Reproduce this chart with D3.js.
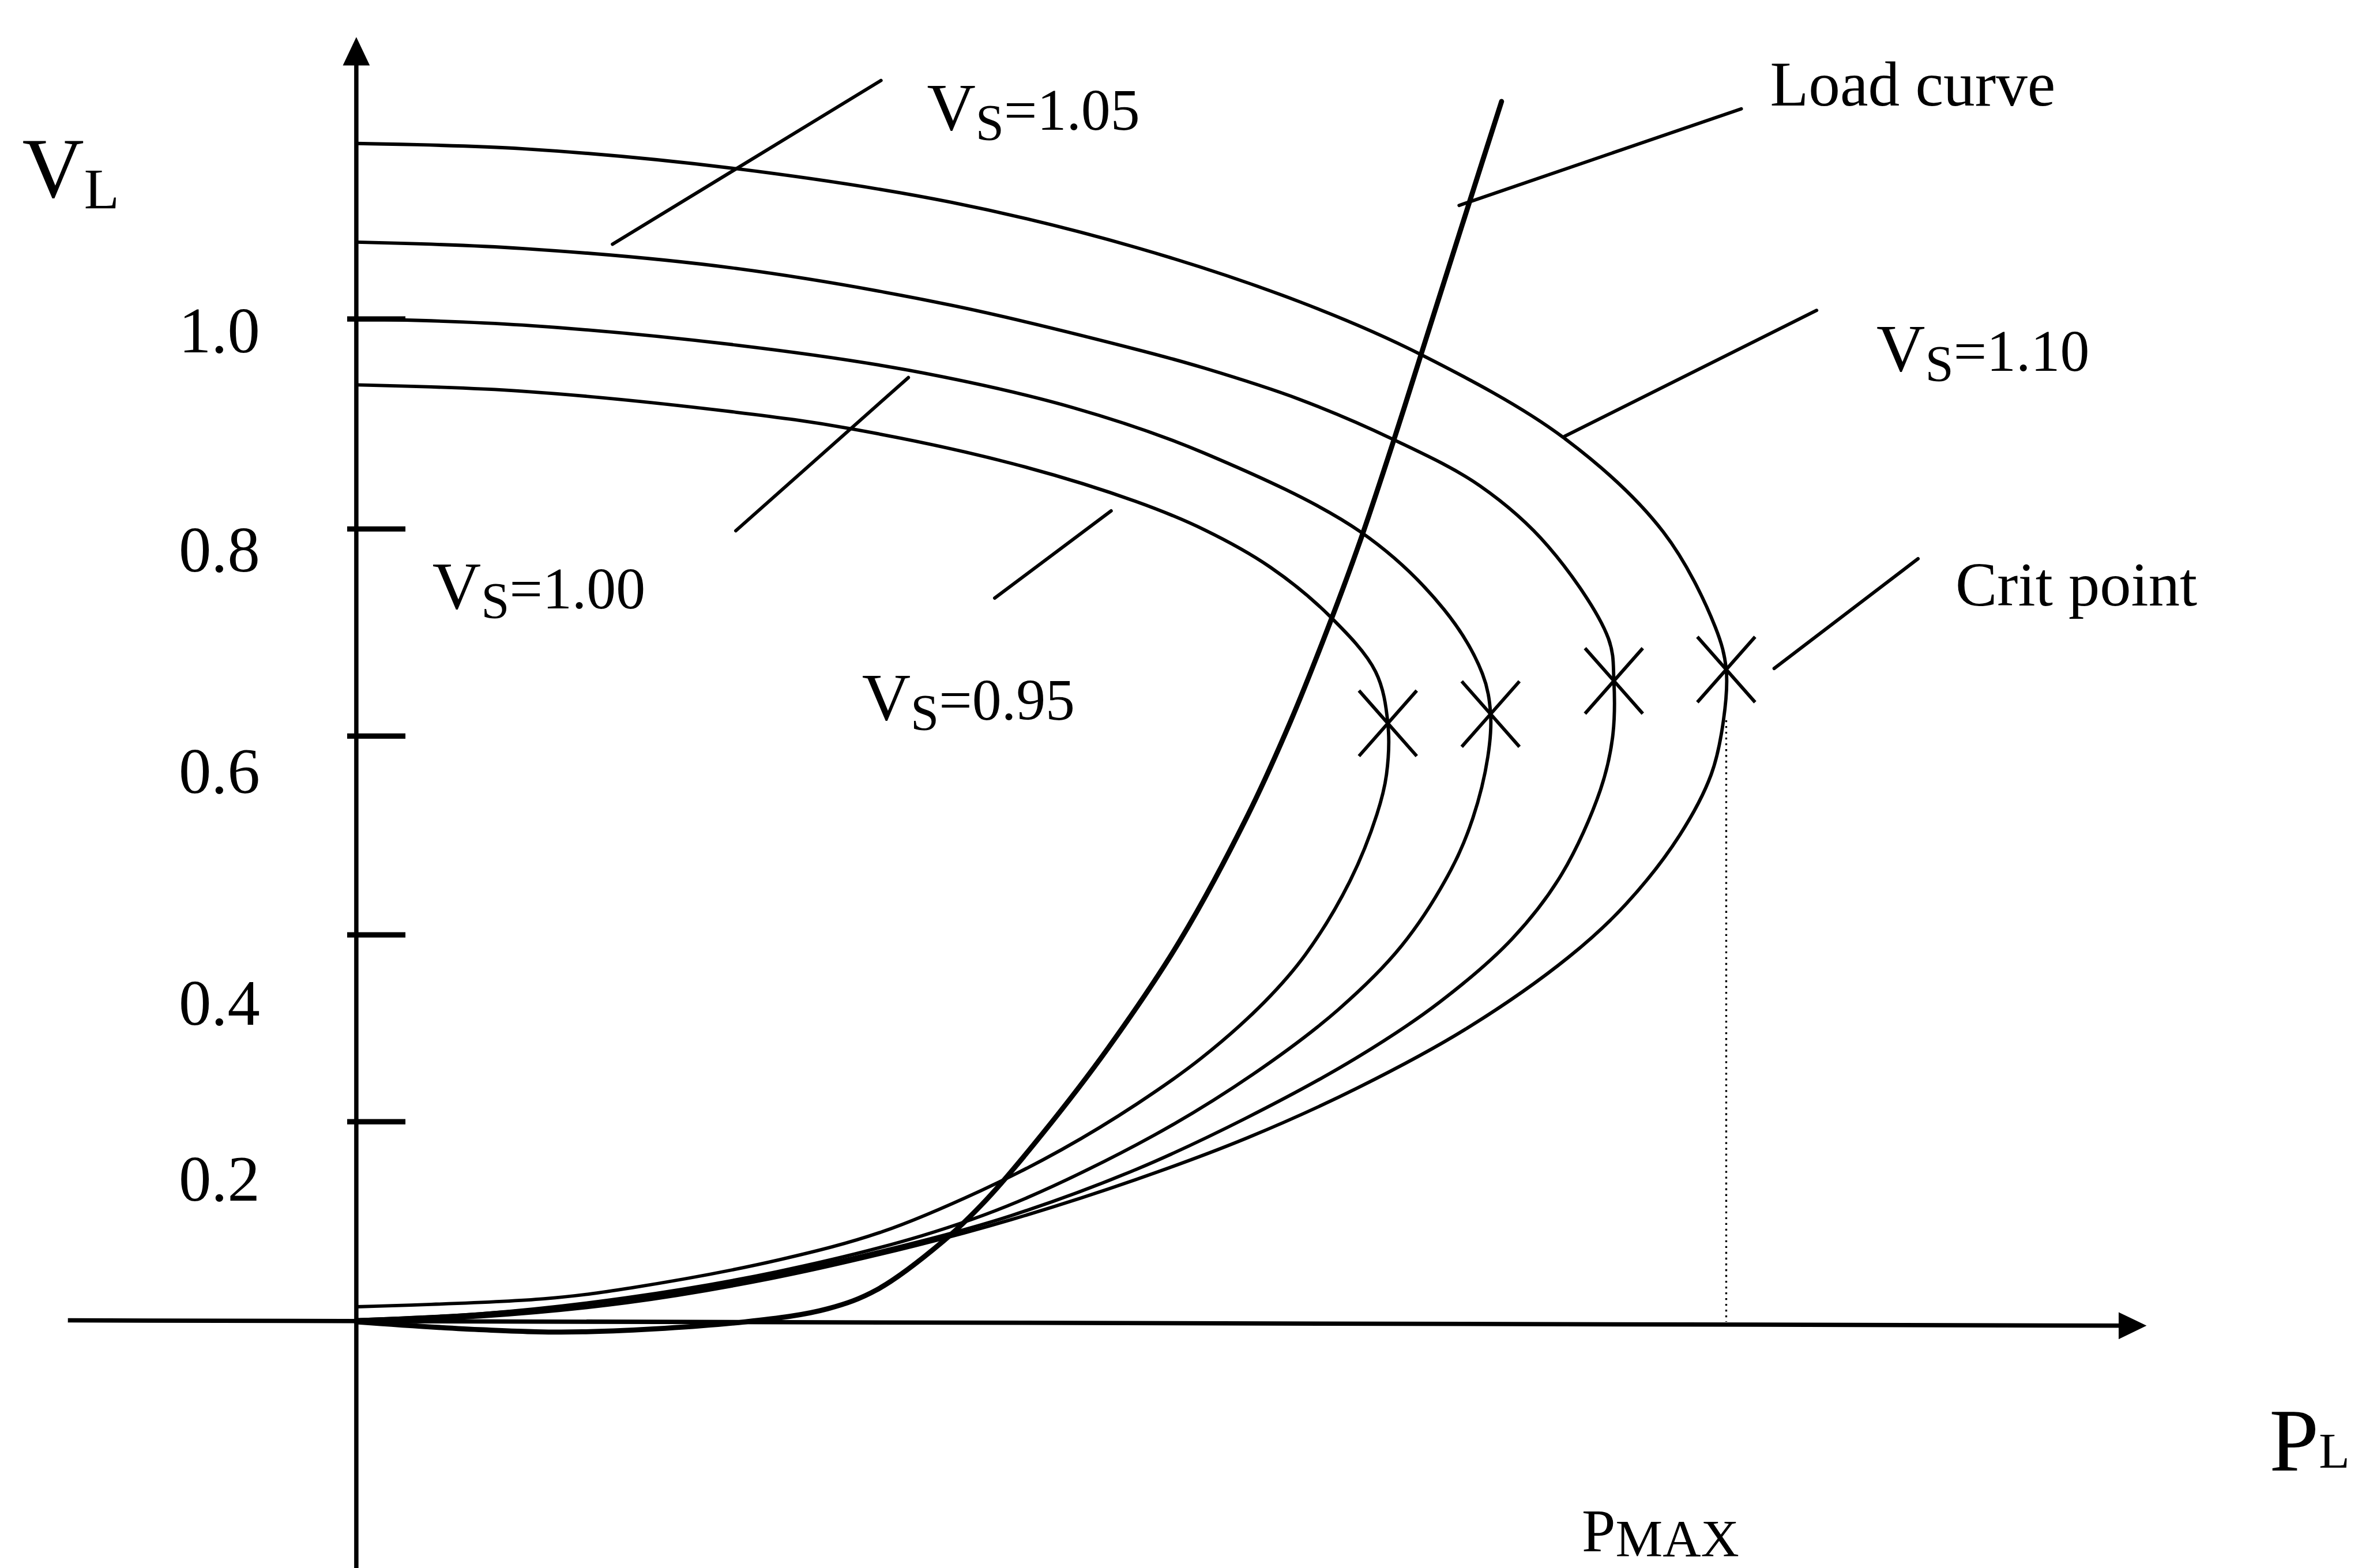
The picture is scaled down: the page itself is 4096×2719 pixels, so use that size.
<!DOCTYPE html>
<html>
<head>
<meta charset="utf-8">
<script src="https://cdn.jsdelivr.net/npm/d3@7"></script>
<style>
  html, body { margin: 0; padding: 0; background: #fff; }
  svg { display: block; }
  text { font-family: "Liberation Serif", "Times New Roman", serif; fill: #000; }
</style>
</head>
<body>
<svg id="chart" width="4096" height="2719"></svg>
<script>
// P–V nose curves of a load bus for several source voltages V_S,
// with the load characteristic and the critical (maximum power) points.
// P is in units of P_MAX, V_L in per unit.

const sourceVoltages = ["1.10", "1.05", "1.00", "0.95"];

// upper branch from P = 0, round the nose, lower branch back to the origin
const noseVs110 = [[0,1.167],[0.121,1.162],[0.277,1.143],[0.434,1.111],[0.569,1.068],[0.689,1.016],
  [0.777,0.966],[0.881,0.887],[0.954,0.797],[0.992,0.705],[1.000,0.664],[0.998,0.615],[0.989,0.561],
  [0.966,0.500],[0.927,0.431],[0.885,0.376],[0.811,0.300],[0.731,0.236],[0.651,0.184],[0.569,0.142],
  [0.478,0.102],[0.408,0.076],[0.302,0.043],[0.197,0.019],[0.091,0.005],[0,0]];
const noseVs105 = [[0,1.073],[0.121,1.067],[0.277,1.048],[0.434,1.013],[0.569,0.971],[0.619,0.953],
  [0.689,0.923],[0.757,0.885],[0.820,0.841],[0.870,0.783],[0.914,0.694],[0.918,0.653],[0.917,0.598],
  [0.908,0.545],[0.880,0.461],[0.844,0.396],[0.791,0.328],[0.730,0.268],[0.650,0.204],[0.569,0.152],
  [0.478,0.106],[0.408,0.079],[0.302,0.046],[0.197,0.022],[0.091,0.008],[0,0.002]];
const noseVs100 = [[0,1.000],[0.121,0.994],[0.277,0.975],[0.403,0.951],[0.524,0.915],[0.619,0.872],
  [0.733,0.797],[0.794,0.722],[0.822,0.660],[0.828,0.621],[0.826,0.579],[0.815,0.517],[0.799,0.465],
  [0.763,0.388],[0.717,0.320],[0.655,0.251],[0.582,0.186],[0.483,0.120],[0.413,0.086],[0.307,0.050],
  [0.197,0.024],[0.091,0.008],[0,0.002]];
const noseVs095 = [[0,0.937],[0.121,0.931],[0.277,0.911],[0.362,0.895],[0.479,0.862],[0.569,0.826],
  [0.619,0.799],[0.667,0.763],[0.711,0.715],[0.744,0.662],[0.753,0.612],[0.752,0.561],[0.745,0.521],
  [0.725,0.453],[0.693,0.379],[0.663,0.328],[0.617,0.268],[0.570,0.219],[0.515,0.172],[0.456,0.131],
  [0.384,0.090],[0.309,0.062],[0.201,0.034],[0.137,0.023],[0,0.015]];

const loadCurve = [[0,0],[0.093,-0.008],[0.165,-0.010],[0.284,0.000],[0.344,0.013],[0.380,0.032],
  [0.428,0.080],[0.460,0.122],[0.501,0.188],[0.549,0.279],[0.601,0.393],[0.650,0.518],[0.682,0.614],
  [0.711,0.710],[0.733,0.789],[0.757,0.883],[0.777,0.965],[0.813,1.113],[0.836,1.207]];

// critical points, one per source voltage (same order as sourceVoltages)
const critPoints = [[1.000,0.664],[0.918,0.653],[0.828,0.621],[0.753,0.612]];
const pMax = 1.0;
const pMaxVoltage = 0.615;

const yTickValues = [0.2, 0.4, 0.6, 0.8, 1.0];
const yTickLabels = ["0.2", "0.4", "0.6", "0.8", "1.0"];
const yTickLabelAt = [0.143, 0.327, 0.565, 0.780, 0.989];

// leader lines from each curve to its caption, in (P, V) units
const leaderFrom = [[0.187,1.071],[0.277,0.798],[0.466,0.733],[0.805,1.108],[0.882,0.888],[1.035,0.665]];
const leaderTo   = [[0.383,1.227],[0.403,0.944],[0.551,0.817],[1.011,1.200],[1.066,1.008],[1.140,0.771]];

// ---------------------------------------------------------------------------
const k = 0.835;
const svg = d3.select("#chart");
const g = svg.append("g").attr("transform", `scale(${k})`);

const x = d3.scaleLinear().domain([0, 1]).range([740, 3585]);
const y = d3.scaleLinear().domain([0, 0.2, 0.4, 0.6, 0.8, 1.0])
  .range([2745, 2329, 1941, 1528, 1098, 662]);

const line = d3.line()
  .x(d => x(d[0])).y(d => y(d[1]))
  .curve(d3.curveCatmullRom.alpha(0.5));

// axes
g.append("line").attr("x1", 740).attr("y1", 3260).attr("x2", 740).attr("y2", 120)
  .attr("stroke", "#000").attr("stroke-width", 9);
g.append("path").attr("d", "M740,77 L712,136 L768,136 Z").attr("fill", "#000");

g.append("line").attr("x1", 141).attr("y1", 2742).attr("x2", 4420).attr("y2", 2753)
  .attr("stroke", "#000").attr("stroke-width", 9);
g.append("path").attr("d", "M4458,2753 L4400,2725 L4400,2781 Z").attr("fill", "#000");

const yAxis = g.append("g").attr("transform", "translate(721,0)")
  .call(d3.axisRight(y).tickValues(yTickValues).tickSize(121).tickSizeOuter(0).tickFormat(""));
yAxis.select(".domain").remove();
yAxis.selectAll(".tick line").attr("stroke", "#000").attr("stroke-width", 11);
yAxis.selectAll(".tick text").remove();

g.selectAll("text.ytick").data(yTickLabels).join("text")
  .attr("class", "ytick")
  .attr("x", 540).attr("y", (d, i) => y(yTickLabelAt[i]))
  .attr("dy", "0.34em").attr("text-anchor", "end")
  .attr("font-size", 135).text(d => d);

// P_MAX guide
g.append("line")
  .attr("x1", x(pMax)).attr("x2", x(pMax))
  .attr("y1", y(pMaxVoltage)).attr("y2", y(0))
  .attr("stroke", "#000").attr("stroke-width", 4).attr("stroke-dasharray", "4 8");

// nose curves
const noseCurves = [noseVs110, noseVs105, noseVs100, noseVs095];
g.selectAll("path.nose").data(noseCurves).join("path")
  .attr("class", "nose")
  .attr("d", line).attr("fill", "none")
  .attr("stroke", "#000").attr("stroke-width", 7).attr("stroke-linejoin", "round");

// load characteristic
g.append("path").datum(loadCurve).attr("d", line).attr("fill", "none")
  .attr("stroke", "#000").attr("stroke-width", 10.5).attr("stroke-linecap", "round");

// critical point crosses
const hw = 60, hh = 68;
g.selectAll("path.crit").data(critPoints).join("path")
  .attr("class", "crit")
  .attr("d", d => {
    const cx = x(d[0]), cy = y(d[1]);
    return `M${cx - hw},${cy - hh}L${cx + hw},${cy + hh}M${cx + hw},${cy - hh}L${cx - hw},${cy + hh}`;
  })
  .attr("stroke", "#000").attr("stroke-width", 7).attr("fill", "none");

// leader lines
g.selectAll("line.leader").data(leaderFrom).join("line")
  .attr("class", "leader")
  .attr("x1", d => x(d[0])).attr("y1", d => y(d[1]))
  .attr("x2", (d, i) => x(leaderTo[i][0])).attr("y2", (d, i) => y(leaderTo[i][1]))
  .attr("stroke", "#000").attr("stroke-width", 7).attr("stroke-linecap", "round");

// captions
function vsCaption(px, py, value) {
  const t = g.append("text").attr("x", px).attr("y", py);
  t.append("tspan").attr("font-size", 140).text("V");
  t.append("tspan").attr("font-size", 106).attr("dy", 20).text("S");
  t.append("tspan").attr("font-size", 122).attr("dy", -20).text("=" + value);
}
vsCaption(3897, 770, sourceVoltages[0]);
vsCaption(1925, 270, sourceVoltages[1]);
vsCaption(898, 1263, sourceVoltages[2]);
vsCaption(1790, 1495, sourceVoltages[3]);

g.append("text").attr("x", 3676).attr("y", 219).attr("font-size", 131).text("Load curve");
g.append("text").attr("x", 4061).attr("y", 1257).attr("font-size", 130).text("Crit point");

// axis titles
const vl = g.append("text").attr("x", 46).attr("y", 409);
vl.append("tspan").attr("font-size", 178).text("V");
vl.append("tspan").attr("font-size", 120).attr("dy", 23).text("L");

const pl = g.append("text").attr("x", 4713).attr("y", 3054);
pl.append("tspan").attr("font-size", 185).text("P");
pl.append("tspan").attr("font-size", 105).attr("dy", -6).text("L");

const pm = g.append("text").attr("x", 3285).attr("y", 3222);
pm.append("tspan").attr("font-size", 126).text("P");
pm.append("tspan").attr("font-size", 110).attr("dy", 10).text("MAX");
</script>
</body>
</html>
